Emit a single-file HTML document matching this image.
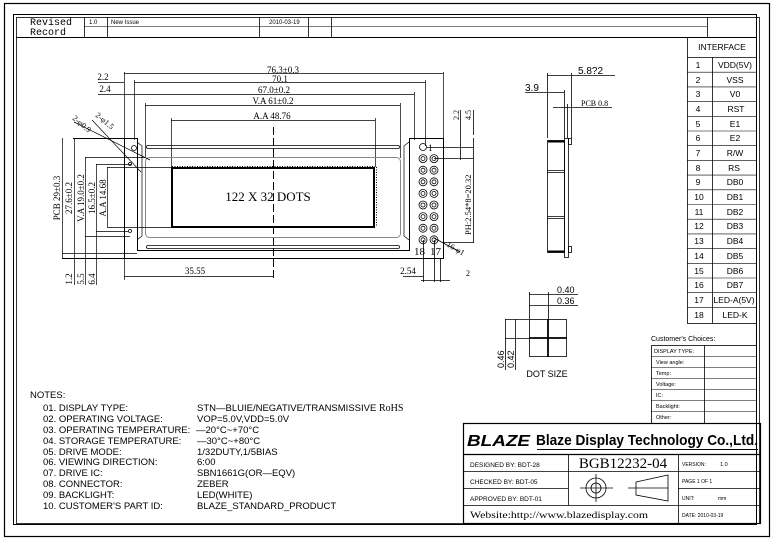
<!DOCTYPE html>
<html><head><meta charset="utf-8"><style>
body{margin:0;background:#fff}
svg{display:block}
text{font-family:"Liberation Sans",sans-serif;fill:#000}
.s,.s text{font-family:"Liberation Serif",serif}
.m,.m text{font-family:"Liberation Mono",monospace}
</style></head><body>
<svg width="772" height="541" viewBox="0 0 772 541" xmlns="http://www.w3.org/2000/svg" fill="none" stroke="#000" stroke-width="1">
<!-- borders -->
<rect x="4.5" y="3.5" width="765" height="533" stroke-width="1.2"/>
<rect x="13.5" y="14.5" width="743" height="510"/>
<rect x="16.5" y="17.5" width="743" height="506" stroke-width="0.8"/>
<!-- revision header -->
<line x1="16" y1="37.5" x2="757" y2="37.5"/>
<line x1="84" y1="26.5" x2="707" y2="26.5" stroke-width="0.6"/>
<g stroke-width="0.8"><line x1="84.5" y1="17" x2="84.5" y2="37"/><line x1="107.5" y1="17" x2="107.5" y2="37"/><line x1="259.5" y1="17" x2="259.5" y2="37"/><line x1="308.5" y1="17" x2="308.5" y2="37"/><line x1="331.5" y1="17" x2="331.5" y2="37"/><line x1="707.5" y1="17" x2="707.5" y2="37"/></g>
<g stroke="none">
<text x="30" y="25" font-size="10" class="m">Revised</text>
<text x="30" y="35" font-size="10" class="m">Record</text>
<text x="89" y="24" font-size="6">1.0</text>
<text x="111" y="24" font-size="6">New Issue</text>
<text x="269" y="24" font-size="6">2010-03-19</text>
</g>
<!-- interface table -->
<rect x="687.5" y="37.5" width="69" height="286" stroke-width="0.8"/>
<line x1="687" y1="57.5" x2="756" y2="57.5" stroke-width="0.8"/>
<line x1="712.5" y1="57" x2="712.5" y2="323" stroke-width="0.8"/>
<g stroke-width="0.6">
<line x1="687" y1="72.2" x2="756" y2="72.2"/><line x1="687" y1="86.9" x2="756" y2="86.9"/><line x1="687" y1="101.6" x2="756" y2="101.6"/><line x1="687" y1="116.3" x2="756" y2="116.3"/><line x1="687" y1="131" x2="756" y2="131"/><line x1="687" y1="145.7" x2="756" y2="145.7"/><line x1="687" y1="160.4" x2="756" y2="160.4"/><line x1="687" y1="175.1" x2="756" y2="175.1"/><line x1="687" y1="189.8" x2="756" y2="189.8"/><line x1="687" y1="204.5" x2="756" y2="204.5"/><line x1="687" y1="219.2" x2="756" y2="219.2"/><line x1="687" y1="233.9" x2="756" y2="233.9"/><line x1="687" y1="248.6" x2="756" y2="248.6"/><line x1="687" y1="263.3" x2="756" y2="263.3"/><line x1="687" y1="278" x2="756" y2="278"/><line x1="687" y1="292.7" x2="756" y2="292.7"/><line x1="687" y1="307.4" x2="756" y2="307.4"/>
</g>
<g stroke="none" font-size="8.5">
<text x="722" y="50" text-anchor="middle">INTERFACE</text>
<g text-anchor="middle">
<text x="698" y="68">1</text><text x="698" y="83">2</text><text x="698" y="97">3</text><text x="698" y="112">4</text><text x="698" y="127">5</text><text x="698" y="141">6</text><text x="698" y="156">7</text><text x="698" y="171">8</text><text x="698" y="185">9</text><text x="699" y="200">10</text><text x="699" y="215">11</text><text x="699" y="229">12</text><text x="699" y="244">13</text><text x="699" y="259">14</text><text x="699" y="274">15</text><text x="699" y="288">16</text><text x="699" y="303">17</text><text x="699" y="318">18</text>
<text x="735" y="68">VDD(5V)</text><text x="735" y="83">VSS</text><text x="735" y="97">V0</text><text x="736" y="112">RST</text><text x="735" y="127">E1</text><text x="735" y="141">E2</text><text x="735" y="156">R/W</text><text x="734" y="171">RS</text><text x="735" y="185">DB0</text><text x="735" y="200">DB1</text><text x="735" y="215">DB2</text><text x="735" y="229">DB3</text><text x="735" y="244">DB4</text><text x="735" y="259">DB5</text><text x="735" y="274">DB6</text><text x="735" y="288">DB7</text><text x="734" y="303">LED-A(5V)</text><text x="735" y="318">LED-K</text>
</g></g>

<!-- main drawing dims -->
<g stroke-width="0.7">
<line x1="124" y1="73.5" x2="443" y2="73.5"/><line x1="134" y1="82.5" x2="425" y2="82.5"/>
<line x1="98" y1="82.5" x2="124" y2="82.5"/><line x1="98" y1="94.5" x2="414" y2="94.5"/>
<line x1="145" y1="105.5" x2="400" y2="105.5"/><line x1="171" y1="120.5" x2="375" y2="120.5"/>
<line x1="124.5" y1="72" x2="124.5" y2="280"/><line x1="443.5" y1="72" x2="443.5" y2="140"/>
<line x1="134.5" y1="80" x2="134.5" y2="140"/><line x1="425.5" y1="80" x2="425.5" y2="146"/>
<line x1="414.5" y1="92" x2="414.5" y2="140"/><line x1="145.5" y1="103" x2="145.5" y2="158"/>
<line x1="400.5" y1="103" x2="400.5" y2="158"/><line x1="171.5" y1="118" x2="171.5" y2="167"/>
<line x1="375.5" y1="118" x2="375.5" y2="167"/>
<line x1="124" y1="276.5" x2="273" y2="276.5"/>
</g>
<line x1="273.5" y1="127" x2="273.5" y2="280" stroke-dasharray="8,3" stroke-width="1"/>
<g stroke="none" font-size="9" class="s" text-anchor="middle">
<text x="283" y="73">76.3±0.3</text><text x="280" y="82">70.1</text><text x="274" y="93">67.0±0.2</text>
<text x="273" y="104">V.A  61±0.2</text><text x="272" y="119">A.A 48.76</text>
<text x="103" y="80">2.2</text><text x="105" y="92">2.4</text>
<text x="195" y="274">35.55</text>
<text x="408" y="274">2.54</text>
</g>
<!-- PCB -->
<path d="M73 138.5H137.5V250.5H409.5V138.5H443.5V258.5H62" stroke-width="1"/>
<line x1="124.5" y1="138" x2="124.5" y2="258"/>
<path d="M137.5 138.5V145M409.5 138.5V150" />
<rect x="146.5" y="145.5" width="253" height="3" rx="1.5" stroke-width="0.8"/>
<rect x="146.5" y="245.5" width="253" height="3" rx="1.5" stroke-width="0.8"/>
<path d="M137 142l5 4v90l-5 4M409 142l-5 4v90l5 4" stroke-width="0.7"/>
<rect x="145.5" y="157.5" width="255" height="80" rx="4" stroke="#888" stroke-width="1"/>
<rect x="172" y="168" width="202" height="59" stroke-width="2"/>
<line x1="172" y1="166.5" x2="375" y2="166.5" stroke-dasharray="1,1.5" stroke-width="1"/>
<line x1="376.5" y1="167" x2="376.5" y2="227" stroke-dasharray="1,1.5" stroke-width="1"/>
<text x="268" y="201" font-size="13" class="s" text-anchor="middle" stroke="none">122 X 32 DOTS</text>
<!-- holes -->
<circle cx="134" cy="148" r="2.5" stroke-width="0.8"/><circle cx="130" cy="164" r="1.5" stroke-width="0.8"/><circle cx="130" cy="231" r="1.5" stroke-width="0.8"/>
<line x1="74" y1="122" x2="150" y2="160" stroke-width="0.7"/>
<line x1="92" y1="120" x2="141" y2="172" stroke-width="0.7"/>
<g stroke="none" font-size="8" class="s">
<text x="72" y="119" transform="rotate(40 72 119)">2-φ0.9</text>
<text x="95" y="116" transform="rotate(40 95 116)">2-φ1.5</text>
</g>
<!-- left dims -->
<g stroke-width="0.7">
<line x1="62.5" y1="138" x2="62.5" y2="258"/><line x1="74.5" y1="138" x2="74.5" y2="285"/>
<line x1="85.5" y1="157" x2="85.5" y2="285"/><line x1="96.5" y1="164" x2="96.5" y2="285"/>
<line x1="107.5" y1="167" x2="107.5" y2="227"/>
<line x1="62" y1="253.5" x2="137" y2="253.5"/>
<line x1="85" y1="157.5" x2="145" y2="157.5"/><line x1="96" y1="164.5" x2="131" y2="164.5"/>
<line x1="107" y1="167.5" x2="171" y2="167.5"/><line x1="107" y1="227.5" x2="171" y2="227.5"/>
<line x1="85" y1="236.5" x2="130" y2="236.5"/><line x1="96" y1="231.5" x2="128" y2="231.5"/>
</g>
<g stroke="none" font-size="9" class="s" text-anchor="middle">
<text transform="translate(60 198) rotate(-90)">PCB 29±0.3</text>
<text transform="translate(72 198) rotate(-90)">27.6±0.2</text>
<text transform="translate(84 198) rotate(-90)">V.A 19.0±0.2</text>
<text transform="translate(95 198) rotate(-90)">16.5±0.2</text>
<text transform="translate(106 198) rotate(-90)">A.A 14.68</text>
<text transform="translate(72 279) rotate(-90)">1.2</text>
<text transform="translate(84 279) rotate(-90)">5.5</text>
<text transform="translate(95 279) rotate(-90)">6.4</text>
</g>
<!-- pins -->
<g stroke-width="0.8">
<circle cx="423" cy="147" r="3.5"/>
<g id="p"><circle cx="423" cy="158.6" r="4"/><circle cx="423" cy="158.6" r="2"/><circle cx="434" cy="158.6" r="4"/><circle cx="434" cy="158.6" r="2"/></g>
<use href="#p" y="11.6"/><use href="#p" y="23.2"/><use href="#p" y="34.8"/><use href="#p" y="46.4"/><use href="#p" y="58"/><use href="#p" y="69.6"/><use href="#p" y="81.2"/>
<line x1="427" y1="147.5" x2="473" y2="147.5"/><line x1="434" y1="158.5" x2="473" y2="158.5"/>
<line x1="443" y1="242.5" x2="474" y2="242.5"/>
<line x1="473.5" y1="138" x2="473.5" y2="243"/><line x1="460.5" y1="110" x2="460.5" y2="160"/><line x1="473.5" y1="110" x2="473.5" y2="135"/>
<line x1="434" y1="238" x2="460" y2="252"/>
<line x1="423.5" y1="240" x2="423.5" y2="282"/><line x1="434.5" y1="240" x2="434.5" y2="282"/><line x1="440.5" y1="258" x2="440.5" y2="282"/>
<line x1="403" y1="276.5" x2="423" y2="276.5"/><line x1="421" y1="280.5" x2="450" y2="280.5"/>
</g>
<g stroke="none" class="s">
<text x="428" y="151" font-size="9">1</text>
<text x="414" y="255" font-size="11">18</text><text x="430" y="255" font-size="11">17</text>
<text x="446" y="246" font-size="8" transform="rotate(30 446 246)">16-φ1</text>
<text x="466" y="276" font-size="8">2</text>
<text transform="translate(459 120) rotate(-90)" font-size="8">2.2</text>
<text transform="translate(471 120) rotate(-90)" font-size="8">4.5</text>
<text transform="translate(471 235) rotate(-90)" font-size="8.5">PH:2.54*8=20.32</text>
</g>
<!-- side view -->
<g stroke-width="0.8">
<line x1="547.5" y1="73" x2="547.5" y2="138"/><line x1="571.5" y1="73" x2="571.5" y2="138"/>
<line x1="564.5" y1="90" x2="564.5" y2="138"/><line x1="567.5" y1="104" x2="567.5" y2="138"/>
<line x1="547" y1="75.5" x2="615" y2="75.5"/><line x1="525" y1="92.5" x2="564" y2="92.5"/><line x1="553" y1="107.5" x2="612" y2="107.5"/>
<rect x="547.5" y="140.5" width="17" height="112"/>
<rect x="564.5" y="138.5" width="4" height="119"/>
<rect x="568.5" y="138.5" width="3" height="6"/><rect x="568.5" y="246.5" width="3" height="6"/>
<line x1="547" y1="170.5" x2="564" y2="170.5"/><line x1="547" y1="172.5" x2="564" y2="172.5"/>
<line x1="547" y1="216.5" x2="564" y2="216.5"/><line x1="547" y1="218.5" x2="564" y2="218.5"/>
</g>
<line x1="548" y1="141.5" x2="564" y2="141.5" stroke-width="2"/><line x1="548" y1="251.5" x2="564" y2="251.5" stroke-width="2"/>
<g stroke="none">
<text x="578" y="74" font-size="10">5.8?2</text>
<text x="525" y="91" font-size="10">3.9</text>
<text x="581" y="106" font-size="8" class="s">PCB 0.8</text>
</g>
<!-- dot size -->
<g stroke-width="0.8">
<rect x="529.5" y="319.5" width="37" height="37"/>
<line x1="548" y1="319" x2="548" y2="357" stroke-width="1.8"/><line x1="529" y1="338" x2="567" y2="338" stroke-width="1.8"/>
<line x1="529.5" y1="292" x2="529.5" y2="319"/><line x1="548.5" y1="292" x2="548.5" y2="319"/>
<line x1="529" y1="294.5" x2="578" y2="294.5"/><line x1="529" y1="305.5" x2="578" y2="305.5"/>
<line x1="505" y1="319.5" x2="529" y2="319.5"/><line x1="505" y1="338.5" x2="529" y2="338.5"/>
<line x1="505.5" y1="319" x2="505.5" y2="370"/><line x1="515.5" y1="319" x2="515.5" y2="370"/>
</g>
<g stroke="none" font-size="9">
<text x="557" y="293">0.40</text><text x="557" y="304">0.36</text>
<text transform="translate(504 368) rotate(-90)">0.46</text>
<text transform="translate(514 368) rotate(-90)">0.42</text>
<text x="547" y="377" text-anchor="middle">DOT SIZE</text>
</g>
<!-- customer choices -->
<text x="651" y="341" font-size="7" stroke="none">Customer's  Choices:</text>
<rect x="651.5" y="345.5" width="105" height="78" stroke-width="0.8"/>
<line x1="704.5" y1="345" x2="704.5" y2="423" stroke-width="0.8"/>
<g stroke-width="0.6"><line x1="651" y1="356.5" x2="757" y2="356.5"/><line x1="651" y1="367.5" x2="757" y2="367.5"/><line x1="651" y1="378.5" x2="757" y2="378.5"/><line x1="651" y1="389.5" x2="757" y2="389.5"/><line x1="651" y1="400.5" x2="757" y2="400.5"/><line x1="651" y1="411.5" x2="757" y2="411.5"/></g>
<g stroke="none" font-size="5.5">
<text x="654" y="353">DISPLAY TYPE:</text><text x="656" y="364">View angle:</text><text x="656" y="375">Temp:</text><text x="656" y="386">Voltage:</text><text x="656" y="397">IC:</text><text x="656" y="408">Backlight:</text><text x="656" y="419">Other:</text>
</g>
<!-- title block -->
<rect x="463.5" y="423.5" width="297" height="100" stroke-width="1.2"/>
<line x1="463" y1="454.5" x2="761" y2="454.5" stroke-width="1.2"/>
<g stroke-width="0.8">
<line x1="568.5" y1="454" x2="568.5" y2="505"/><line x1="678.5" y1="454" x2="678.5" y2="524"/>
<line x1="463" y1="471.5" x2="761" y2="471.5"/><line x1="463" y1="488.5" x2="568" y2="488.5"/><line x1="678" y1="488.5" x2="761" y2="488.5"/>
<line x1="463" y1="505.5" x2="761" y2="505.5"/>
<circle cx="596" cy="488" r="10"/><circle cx="596" cy="488" r="5"/>
<line x1="580" y1="488" x2="613" y2="488"/><line x1="596" y1="474" x2="596" y2="502"/>
<path d="M636 482L668 475V501L636 495Z"/><line x1="628" y1="488" x2="668" y2="488"/>
</g>
<g stroke="none">
<text x="467" y="446" font-size="16" font-weight="bold" font-style="italic" textLength="63" lengthAdjust="spacingAndGlyphs">BLAZE</text>
<text x="536" y="445" font-size="15" font-weight="bold" textLength="222" lengthAdjust="spacingAndGlyphs">Blaze Display Technology Co.,Ltd.</text>
<text x="470" y="467" font-size="6.5">DESIGNED  BY:  BDT-28</text>
<text x="470" y="484" font-size="6.5">CHECKED  BY:  BDT-05</text>
<text x="470" y="501" font-size="6.5">APPROVED  BY: BDT-01</text>
<text x="623" y="468" font-size="15" class="s" text-anchor="middle">BGB12232-04</text>
<text x="470" y="518" font-size="9" class="s" textLength="178" lengthAdjust="spacingAndGlyphs">Website:http://www.blazedisplay.com</text>
<text x="682" y="466" font-size="5">VERSION:</text><text x="720" y="466" font-size="5.5">1.0</text>
<text x="682" y="483" font-size="5">PAGE   1      OF      1</text>
<text x="682" y="500" font-size="5">UNIT:</text><text x="718" y="500" font-size="5">mm</text>
<text x="682" y="517" font-size="5">DATE:   2010-03-19</text>
</g>
<line x1="537" y1="449.5" x2="758" y2="449.5" stroke-width="1"/>
<!-- notes -->
<g stroke="none" font-size="9.5">
<text x="30" y="398">NOTES:</text>
<text x="43" y="411">01.  DISPLAY  TYPE:</text><text x="197" y="411">STN—BLUIE/NEGATIVE/TRANSMISSIVE <tspan font-family="Liberation Serif" font-size="10">RoHS</tspan></text>
<text x="43" y="422">02.  OPERATING  VOLTAGE:</text><text x="197" y="422">VOP=5.0V,VDD=5.0V</text>
<text x="43" y="433">03.  OPERATING  TEMPERATURE:</text><text x="196" y="433">—20°C~+70°C</text>
<text x="43" y="444">04.  STORAGE  TEMPERATURE:</text><text x="197" y="444">—30°C~+80°C</text>
<text x="43" y="455">05.  DRIVE  MODE:</text><text x="197" y="455">1/32DUTY,1/5BIAS</text>
<text x="43" y="465">06.  VIEWING  DIRECTION:</text><text x="197" y="465">6:00</text>
<text x="43" y="476">07.  DRIVE  IC:</text><text x="197" y="476">SBN1661G(OR—EQV)</text>
<text x="43" y="487">08.  CONNECTOR:</text><text x="197" y="487">ZEBER</text>
<text x="43" y="498">09.  BACKLIGHT:</text><text x="197" y="498">LED(WHITE)</text>
<text x="43" y="509">10.  CUSTOMER'S  PART  ID:</text><text x="197" y="509">BLAZE_STANDARD_PRODUCT</text>
</g>
</svg>
</body></html>
